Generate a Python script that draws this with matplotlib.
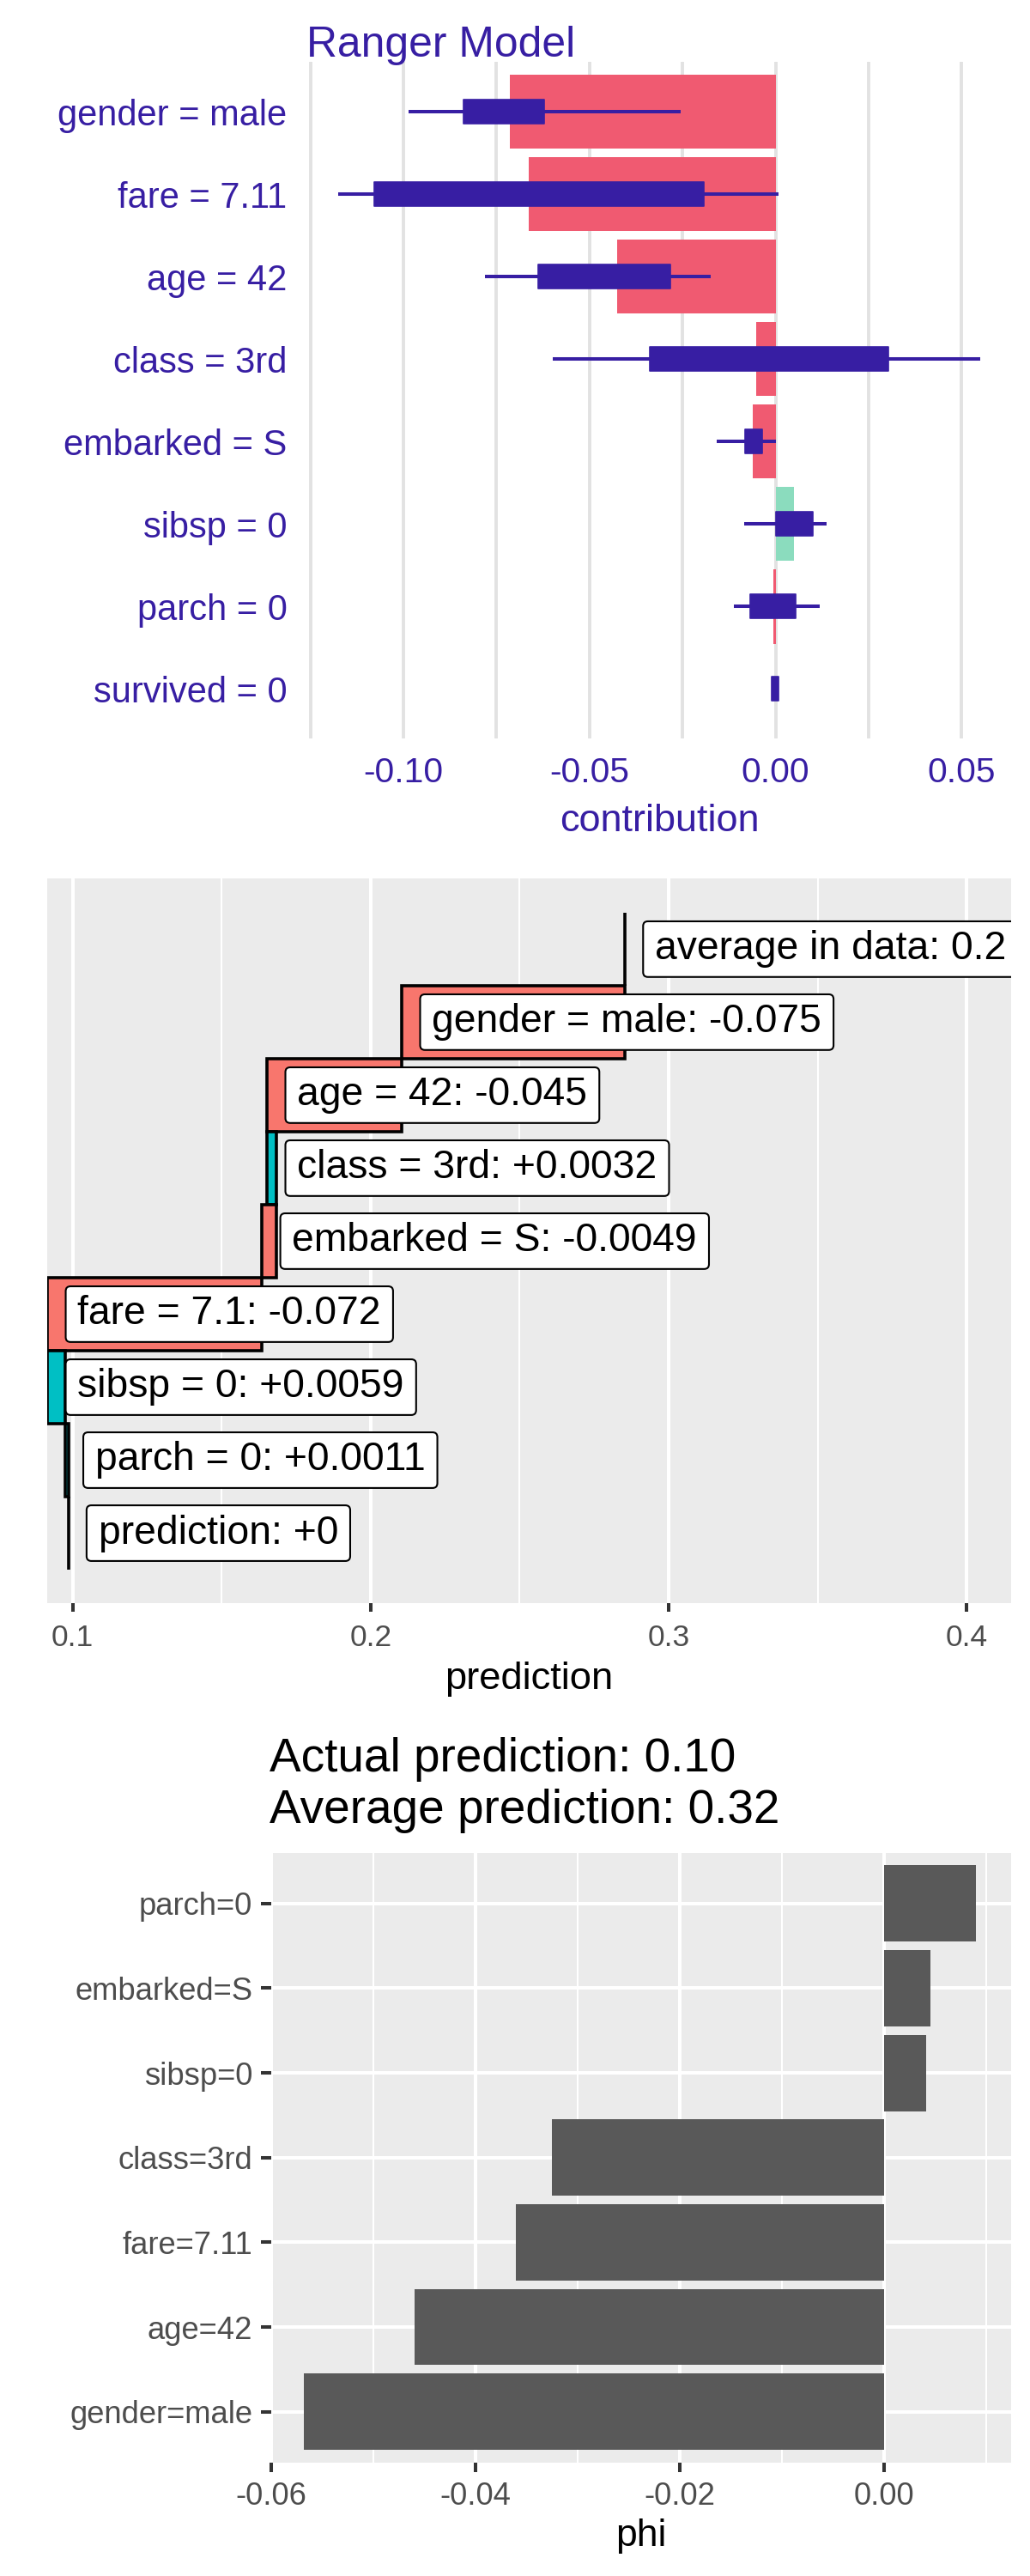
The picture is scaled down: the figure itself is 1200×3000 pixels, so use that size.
import matplotlib
matplotlib.use("Agg")
import matplotlib.pyplot as plt
from matplotlib.path import Path
import numpy as np

plt.rcParams['font.family'] = ['Liberation Sans', 'DejaVu Sans']

# ---------------- data ----------------
# Panel 1: Ranger model (shap-like contributions with boxplots)
p1_features = ['gender = male', 'fare = 7.11', 'age = 42', 'class = 3rd',
               'embarked = S', 'sibsp = 0', 'parch = 0', 'survived = 0']
p1_contrib = [-0.0713, -0.0664, -0.0426, -0.0053, -0.0062, 0.0049, -0.0006, 0.0]
p1_whisker_lo = [-0.0987, -0.1174, -0.0780, -0.0598, -0.0157, -0.0085, -0.0111, -0.0011]
p1_box_lo = [-0.0838, -0.1079, -0.0637, -0.0338, -0.0081, 0.0001, -0.0068, -0.0011]
p1_box_hi = [-0.0621, -0.0192, -0.0282, 0.0304, -0.0035, 0.0100, 0.0055, 0.0008]
p1_whisker_hi = [-0.0254, 0.0008, -0.0174, 0.0550, 0.0000, 0.0137, 0.0118, 0.0008]
p1_xticks = [-0.10, -0.05, 0.00, 0.05]
p1_xticklabels = ['-0.10', '-0.05', '0.00', '0.05']
p1_xminor = [-0.125, -0.075, -0.025, 0.025]

# Panel 2: break-down waterfall
p2_intercept = 0.2853
p2_contrib = [-0.0748, -0.0452, 0.0032, -0.0049, -0.0720, 0.0059, 0.0011]
p2_labels = ['average in data: 0.2', 'gender = male: -0.075', 'age = 42: -0.045',
             'class = 3rd: +0.0032', 'embarked = S: -0.0049', 'fare = 7.1: -0.072',
             'sibsp = 0: +0.0059', 'parch = 0: +0.0011', 'prediction: +0']
p2_xticks = [0.1, 0.2, 0.3, 0.4]
p2_xticklabels = ['0.1', '0.2', '0.3', '0.4']
p2_xminor = [0.15, 0.25, 0.35]

# Panel 3: shapley phi (bottom to top)
p3_features = ['gender=male', 'age=42', 'fare=7.11', 'class=3rd',
               'sibsp=0', 'embarked=S', 'parch=0']
p3_phi = [-0.0568, -0.0459, -0.0360, -0.0325, 0.0041, 0.0045, 0.0090]
p3_xticks = [-0.06, -0.04, -0.02, 0.00]
p3_xticklabels = ['-0.06', '-0.04', '-0.02', '0.00']
p3_xminor = [-0.05, -0.03, -0.01, 0.01]
p3_title = ['Actual prediction: 0.10', 'Average prediction: 0.32']

# ---------------- styling ----------------
W, H = 1200, 3000
PURPLE = '#371EA3'
RED = '#F05A71'
GREEN = '#8BDCBE'
GG_RED = '#F8766D'
GG_TEAL = '#00BFC4'
PANEL = '#EBEBEB'

fig = plt.figure(figsize=(W / 100, H / 100), dpi=100)
fig.patch.set_facecolor('white')


def px_axes(left, top, right, bottom):
    return fig.add_axes([left / W, 1 - bottom / H, (right - left) / W, (bottom - top) / H])


def fx(x):
    return x / W


def fy(y):
    return 1 - y / H


def label_box(x0, y0, width, height, mutation_size):
    padx = 0.30 * mutation_size
    pady = 0.225 * mutation_size
    r = 0.12 * mutation_size
    x0, y0 = x0 - padx, y0 - pady
    x1, y1 = x0 + width + 2 * padx, y0 + height + 2 * pady
    verts = [(x0 + r, y0), (x1 - r, y0), (x1, y0), (x1, y0 + r),
             (x1, y1 - r), (x1, y1), (x1 - r, y1), (x0 + r, y1),
             (x0, y1), (x0, y1 - r), (x0, y0 + r), (x0, y0),
             (x0 + r, y0), (x0 + r, y0)]
    codes = [Path.MOVETO, Path.LINETO, Path.CURVE3, Path.CURVE3,
             Path.LINETO, Path.CURVE3, Path.CURVE3, Path.LINETO,
             Path.CURVE3, Path.CURVE3, Path.LINETO, Path.CURVE3,
             Path.CURVE3, Path.CLOSEPOLY]
    return Path(verts, codes)


# ---------------- panel 1 ----------------
ax1 = px_axes(357.2, 72.4, 1179.3, 860)
y1 = np.arange(len(p1_features))
c1 = [RED if v < 0 else GREEN for v in p1_contrib]
ax1.barh(y1, p1_contrib, height=0.9, color=c1, zorder=2)
ax1.hlines(y1, p1_whisker_lo, p1_whisker_hi, color=PURPLE, lw=2.9, zorder=3)
ax1.barh(y1, np.subtract(p1_box_hi, p1_box_lo), left=p1_box_lo, height=0.29,
         color=PURPLE, edgecolor=PURPLE, linewidth=1.2, joinstyle='round', zorder=4)
ax1.set_xlim(-0.126, 0.0636)
ax1.set_ylim(len(p1_features) - 0.4, -0.6)
ax1.set_xticks(p1_xticks, labels=p1_xticklabels)
ax1.set_xticks(p1_xminor, minor=True)
ax1.set_yticks(y1, labels=p1_features)
ax1.grid(axis='x', which='both', color='#E2E2E2', lw=2.8)
ax1.set_axisbelow(True)
for s in ax1.spines.values():
    s.set_visible(False)
ax1.tick_params(which='both', length=0)
ax1.tick_params(axis='x', pad=14.9, labelsize=29.3, labelcolor=PURPLE)
ax1.tick_params(axis='y', pad=16.3, labelsize=30, labelcolor=PURPLE)
fig.text(fx(357.2), fy(66), 'Ranger Model', fontsize=35.8, color=PURPLE,
         ha='left', va='baseline')
fig.text(fx(768.3), fy(968), 'contribution', fontsize=32.5, color=PURPLE,
         ha='center', va='baseline')

# ---------------- panel 2 ----------------
ax2 = px_axes(55, 1022.9, 1177.5, 1866.7)
ax2.set_facecolor(PANEL)
ends = p2_intercept + np.cumsum(p2_contrib)
starts = np.concatenate([[p2_intercept], ends[:-1]])
for i, (s, e, v) in enumerate(zip(starts, ends, p2_contrib)):
    ax2.barh(i + 1, e - s, left=s, height=1.0, color=GG_RED if v < 0 else GG_TEAL,
             edgecolor='black', linewidth=2.6, zorder=2)
ax2.vlines([p2_intercept], [-0.5], [0.5], color='black', lw=2.6, zorder=3)
ax2.vlines([ends[-1]], [len(p2_labels) - 1.5], [len(p2_labels) - 0.5],
           color='black', lw=2.6, zorder=3)
label_x = np.concatenate([[p2_intercept], np.minimum(starts, ends), [ends[-1]]])
for i, (lx, txt) in enumerate(zip(label_x, p2_labels)):
    ax2.text(lx + 0.0101, i, txt, ha='left', va='center', fontsize=33.3, color='black',
             bbox=dict(boxstyle=label_box, fc='white', ec='black', lw=1.5),
             clip_on=True, zorder=5)
ax2.set_xlim(0.0915, 0.41471)
ax2.set_ylim(len(p2_labels) - 1 + 0.955, -0.97)
ax2.set_xticks(p2_xticks, labels=p2_xticklabels)
ax2.set_xticks(p2_xminor, minor=True)
ax2.set_yticks([])
ax2.grid(axis='x', which='major', color='white', lw=2.9)
ax2.grid(axis='x', which='minor', color='white', lw=1.5)
ax2.set_axisbelow(True)
for s in ax2.spines.values():
    s.set_visible(False)
ax2.tick_params(axis='x', which='major', length=7.2, width=2.9, color='#333333',
                labelcolor='#4D4D4D', labelsize=25.5, pad=10.6)
ax2.tick_params(axis='x', which='minor', length=0)
fig.text(fx(616.5), fy(1967), 'prediction', fontsize=32.7, color='black',
         ha='center', va='baseline')

# ---------------- panel 3 ----------------
ax3 = px_axes(315.5, 2157.7, 1177.5, 2867.8)
ax3.set_facecolor(PANEL)
y3 = np.arange(len(p3_features))
ax3.barh(y3, p3_phi, height=0.9, color='#595959', zorder=2)
ax3.set_xlim(-0.05987, 0.01236)
ax3.set_ylim(-0.6, len(p3_features) - 0.4)
ax3.set_xticks(p3_xticks, labels=p3_xticklabels)
ax3.set_xticks(p3_xminor, minor=True)
ax3.set_yticks(y3, labels=p3_features)
ax3.grid(which='major', color='white', lw=2.9)
ax3.grid(axis='x', which='minor', color='white', lw=1.45)
ax3.set_axisbelow(True)
for s in ax3.spines.values():
    s.set_visible(False)
ax3.tick_params(which='minor', length=0)
ax3.tick_params(axis='x', which='major', length=7.7, width=2.9, color='#333333',
                labelcolor='#4D4D4D', labelsize=26.2, pad=8.2)
ax3.tick_params(axis='y', which='major', length=8.4, width=2.9, color='#333333',
                labelcolor='#4D4D4D', labelsize=26.2, pad=7.0)
fig.text(fx(314), fy(2062.9), p3_title[0], fontsize=39.5, color='black',
         ha='left', va='baseline')
fig.text(fx(314), fy(2122.6), p3_title[1], fontsize=39.5, color='black',
         ha='left', va='baseline')
fig.text(fx(746.5), fy(2965), 'phi', fontsize=32, color='black',
         ha='center', va='baseline')

fig.savefig('out.png', dpi=100, facecolor='white')
